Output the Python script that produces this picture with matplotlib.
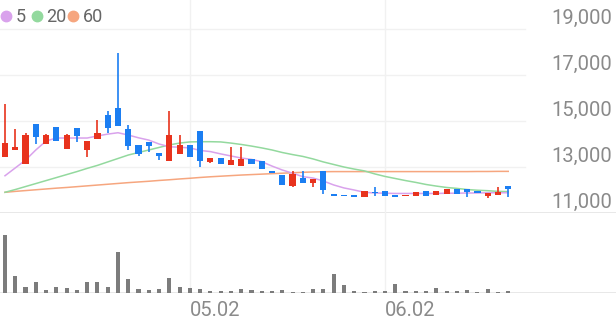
import numpy as np
import matplotlib.pyplot as plt
from matplotlib import transforms
from matplotlib.lines import Line2D

plt.rcParams['font.family'] = ['Roboto', 'DejaVu Sans']

col_up = "#e8331d"
col_down = "#1b7ef2"
col_vol = "#7c7c7c"
col_ma = ["#d9a2ec", "#93d99e", "#f6a67f"]
col_grid = "#f1f1f1"
col_edge = "#e4e4e4"
col_text = "#8a8a8a"

# trading days shown (MM.DD)
dates = ["04.07", "04.08", "04.09", "04.10", "04.11", "04.14", "04.15", "04.16", "04.17", "04.18",
         "04.21", "04.22", "04.23", "04.24", "04.25", "04.28", "04.29", "04.30", "05.02", "05.07",
         "05.08", "05.09", "05.12", "05.13", "05.14", "05.15", "05.16", "05.19", "05.20", "05.21",
         "05.22", "05.23", "05.26", "05.27", "05.28", "05.29", "05.30", "06.02", "06.04", "06.05",
         "06.09", "06.10", "06.11", "06.12", "06.13", "06.16", "06.17", "06.18", "06.19", "06.20"]

opens = [13430, 13740, 13130, 14860, 13990, 14750, 13780, 14680, 13740, 14230,
         15260, 15550, 14640, 13940, 14100, 13620, 13270, 13580, 13940, 14550,
         13230, 13400, 13090, 13040, 13330, 13260, 12830, 12640, 12170, 12510,
         12300, 12810, 11840, 11760, 11780, 11680, 11930, 11940, 11780, 11730,
         11730, 11940, 11800, 11840, 12060, 12030, 11940, 11730, 11800, 12160]
highs = [15740, 14650, 14490, 14860, 14420, 14750, 14420, 14680, 14140, 15040,
         15450, 17970, 14810, 13940, 14100, 13620, 15450, 14390, 13940, 14550,
         13400, 13400, 13860, 13860, 13330, 13260, 12830, 12640, 12830, 12840,
         12480, 12810, 11840, 11760, 11780, 11940, 12120, 11940, 11780, 11780,
         11900, 11940, 11940, 12060, 12060, 12030, 11940, 11880, 12140, 12160]
lows = [13430, 13740, 13130, 14000, 13990, 14140, 13780, 14070, 13450, 14230,
        14460, 14780, 13740, 13490, 13670, 13300, 13270, 13580, 13450, 12990,
        13190, 13120, 13090, 13040, 13130, 12900, 12750, 12220, 12120, 12300,
        12130, 11840, 11740, 11740, 11700, 11680, 11730, 11750, 11680, 11730,
        11730, 11740, 11800, 11840, 11810, 11680, 11870, 11670, 11800, 11710]
closes = [14040, 13860, 14400, 14290, 14390, 14140, 14380, 14360, 14140, 14460,
          14680, 14780, 13910, 13550, 13910, 13490, 14400, 13940, 13450, 13270,
          13400, 13120, 13300, 13330, 13130, 12900, 12750, 12220, 12700, 12300,
          12480, 12000, 11740, 11740, 11700, 11940, 11860, 11750, 11680, 11780,
          11900, 11740, 11940, 12060, 11810, 11930, 11870, 11880, 11900, 12060]
volumes = [577, 167, 60, 107, 27, 57, 50, 27, 107, 107,
           60, 407, 140, 43, 27, 40, 150, 57, 50, 43,
           23, 23, 23, 43, 30, 20, 20, 30, 10, 13,
           40, 40, 193, 80, 17, 10, 17, 17, 90, 23,
           17, 17, 50, 23, 23, 33, 10, 43, 13, 23]

ma5 = [12620, 12960, 13300, 13740, 14130, 14260, 14260, 14260, 14260, 14350,
       14430, 14490, 14390, 14270, 14170, 14000, 13880, 13860, 13830, 13720,
       13670, 13570, 13480, 13390, 13330, 13230, 13040, 12870, 12730, 12580,
       12520, 12390, 12220, 12090, 12000, 11900, 11870, 11860, 11850, 11850,
       11850, 11850, 11850, 11860, 11860, 11870, 11870, 11880, 11880, 11880]
ma20 = [11900, 12020, 12150, 12280, 12410, 12540, 12670, 12800, 12940, 13070,
        13220, 13370, 13520, 13630, 13740, 13850, 13960, 14040, 14090, 14100,
        14100, 14090, 14040, 13980, 13910, 13830, 13740, 13630, 13540, 13460,
        13350, 13220, 13110, 13000, 12910, 12830, 12700, 12590, 12500, 12410,
        12330, 12240, 12170, 12110, 12070, 12020, 11990, 11970, 11940, 11930]
ma60 = [11900, 11940, 11975, 12010, 12045, 12080, 12110, 12145, 12180, 12215,
        12250, 12285, 12320, 12350, 12380, 12415, 12445, 12480, 12510, 12545,
        12575, 12600, 12625, 12650, 12670, 12690, 12710, 12730, 12750, 12770,
        12785, 12795, 12800, 12800, 12800, 12800, 12800, 12800, 12800, 12800,
        12800, 12800, 12800, 12800, 12800, 12800, 12805, 12805, 12810, 12810]

price_ticks = [11000, 13000, 15000, 17000, 19000]
date_ticks = ["05.02", "06.02"]
ma_labels = ["5", "20", "60"]

W, H = 616, 321
step = 10.27     # px per candle
first_x = 5      # px of first candle
grid_end = 525   # px where price gridlines stop

fig = plt.figure(figsize=(W / 100, H / 100), dpi=100)
ax = fig.add_axes([0, (H - 213) / H, 1, 213 / H])
axv = fig.add_axes([0, (H - 293) / H, 1, 80 / H])

xlim = (-first_x / step, (W - first_x) / step)
for a in (ax, axv):
    a.set_xlim(*xlim)
    a.set_axis_off()

ax.set_ylim(price_ticks[0], price_ticks[-1] + 29 / 23 * 1000)
axv.set_ylim(0, max(volumes) * 80 / 57.7)

idx = np.arange(len(dates))
o = np.array(opens)
c = np.array(closes)
colors = np.where(c >= o, col_up, col_down)

# grid
for p in price_ticks[1:]:
    ax.axhline(p, xmax=grid_end / W, color=col_grid, lw=1, zorder=0)
ax.axhline(price_ticks[0], color=col_edge, lw=1.2, zorder=0)
axv.axhline(0, color=col_edge, lw=1.2, zorder=0)
for d in date_ticks:
    i = dates.index(d)
    ax.axvline(i, color=col_grid, lw=1, zorder=0)
    axv.axvline(i, color=col_grid, lw=1, zorder=0)

# moving averages
for ma, col in zip([ma60, ma20, ma5], col_ma[::-1]):
    ax.plot(idx, ma, color=col, lw=1.1, zorder=2)

# candles
ax.vlines(idx, lows, highs, color=colors, lw=1.2, zorder=3)
ax.bar(idx, np.maximum(np.abs(c - o), 50), bottom=np.minimum(o, c), width=0.6,
       color=colors, zorder=4)

# volume
axv.bar(idx, volumes, width=0.4, color=col_vol, zorder=2)

# price labels on the right
tr = transforms.blended_transform_factory(fig.transFigure, ax.transData)
tr = transforms.offset_copy(tr, fig=fig, x=0, y=5, units='dots')
for p in price_ticks:
    ax.text(612 / W, p, f"{p:,}", transform=tr, ha='right', va='baseline',
            fontsize=14.5, color=col_text)

# date labels
trd = transforms.blended_transform_factory(axv.transData, fig.transFigure)
for d in date_ticks:
    axv.text(dates.index(d), 1 - 316.5 / H, d, transform=trd, ha='left', va='baseline',
             fontsize=14.5, color=col_text)

# legend
lx = [6, 36.7, 73.3]
for x, lab, col in zip(lx, ma_labels, col_ma):
    fig.add_artist(Line2D([x / W], [1 - 15.5 / H], marker='o', ms=7.5, color=col, ls='',
                          transform=fig.transFigure))
    fig.text((x + 9.5) / W, 1 - 21.7 / H, lab, ha='left', va='baseline', fontsize=13,
             color="#666666")

fig.savefig("out.png", dpi=100)
